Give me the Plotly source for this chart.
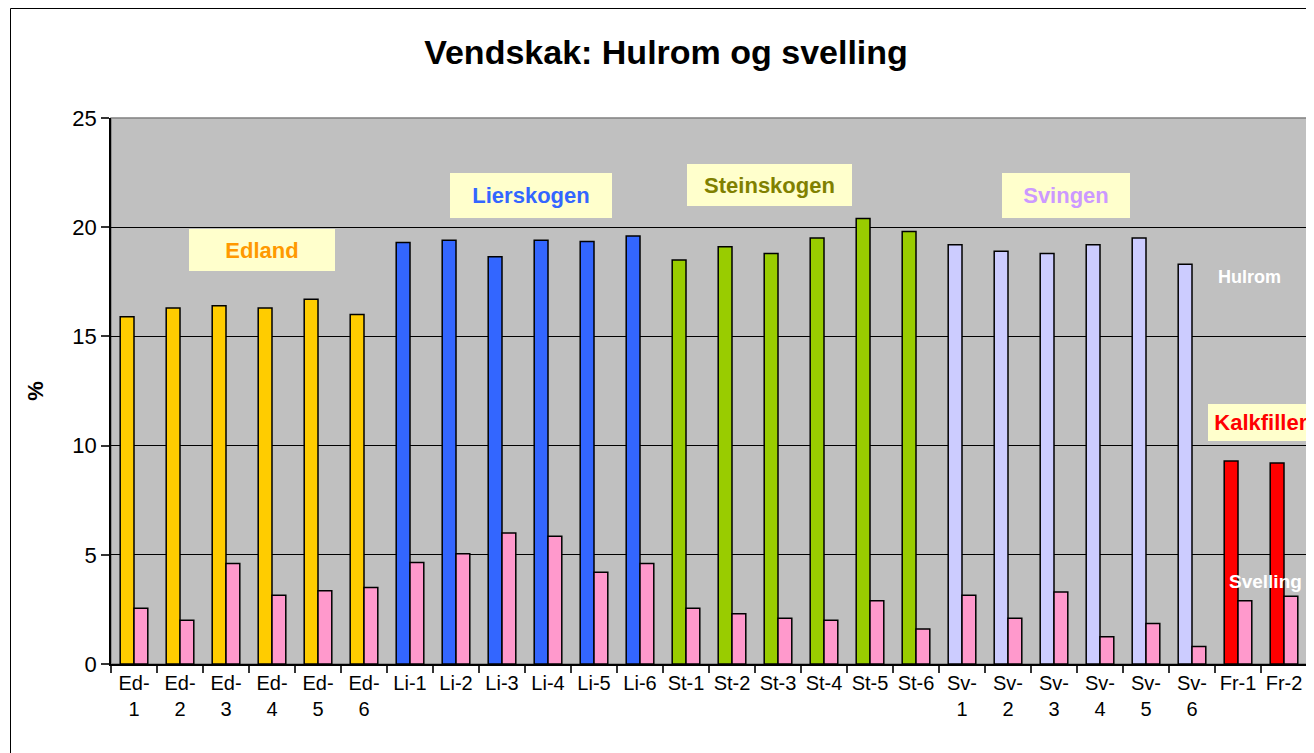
import plotly.graph_objects as go

categories = ["Ed-1", "Ed-2", "Ed-3", "Ed-4", "Ed-5", "Ed-6",
              "Li-1", "Li-2", "Li-3", "Li-4", "Li-5", "Li-6",
              "St-1", "St-2", "St-3", "St-4", "St-5", "St-6",
              "Sv-1", "Sv-2", "Sv-3", "Sv-4", "Sv-5", "Sv-6",
              "Fr-1", "Fr-2"]
tick_labels = ["Ed-<br>1", "Ed-<br>2", "Ed-<br>3", "Ed-<br>4", "Ed-<br>5", "Ed-<br>6",
               "Li-1", "Li-2", "Li-3", "Li-4", "Li-5", "Li-6",
               "St-1", "St-2", "St-3", "St-4", "St-5", "St-6",
               "Sv-<br>1", "Sv-<br>2", "Sv-<br>3", "Sv-<br>4", "Sv-<br>5", "Sv-<br>6",
               "Fr-1", "Fr-2"]
hulrom = [15.9, 16.3, 16.4, 16.3, 16.7, 16.0,
          19.3, 19.4, 18.65, 19.4, 19.35, 19.6,
          18.5, 19.1, 18.8, 19.5, 20.4, 19.8,
          19.2, 18.9, 18.8, 19.2, 19.5, 18.3,
          9.3, 9.2]
svelling = [2.55, 2.0, 4.6, 3.15, 3.35, 3.5,
            4.65, 5.05, 6.0, 5.85, 4.2, 4.6,
            2.55, 2.3, 2.1, 2.0, 2.9, 1.6,
            3.15, 2.1, 3.3, 1.25, 1.85, 0.8,
            2.9, 3.1]
group_colors = {"Ed": "#FFCC00", "Li": "#3366FF", "St": "#99CC00",
                "Sv": "#CCCCFF", "Fr": "#FF0000"}
hulrom_colors = [group_colors[c[:2]] for c in categories]

FONT = "Liberation Sans, Arial, sans-serif"

fig = go.Figure()
fig.add_trace(go.Bar(x=categories, y=hulrom, name="Hulrom",
                     marker=dict(color=hulrom_colors, line=dict(color="#000000", width=1.5))))
fig.add_trace(go.Bar(x=categories, y=svelling, name="Svelling",
                     marker=dict(color="#FF99CC", line=dict(color="#000000", width=1.5))))

# page body has an 8px margin; figure is laid out in its own coordinates
W, H = 1306, 745
L, R, T, B = 103, 7, 110, 89

def box(text, color, x, y, w, h, size=22):
    fig.add_annotation(x=x, y=y, xref="x", yref="y", text="<b>%s</b>" % text,
                       showarrow=False, font=dict(family=FONT, size=size, color=color),
                       bgcolor="#FFFFCC", borderwidth=0, borderpad=0,
                       width=w, height=h, align="center", valign="middle",
                       xanchor="center", yanchor="middle")

box("Edland", "#FF9900", 2.78, 18.96, 146, 42)
box("Lierskogen", "#3366FF", 8.63, 21.46, 162, 45)
box("Steinskogen", "#808000", 13.82, 21.95, 165, 42)
box("Svingen", "#CC99FF", 20.26, 21.46, 128, 45)
box("Kalkfiller", "#FF0000", 24.5, 11.05, 106, 37)

fig.add_annotation(x=24.26, y=17.72, xref="x", yref="y", text="<b>Hulrom</b>",
                   showarrow=False, font=dict(family=FONT, size=18, color="#FFFFFF"))
fig.add_annotation(x=24.59, y=3.79, xref="x", yref="y", text="<b>Svelling</b>",
                   showarrow=False, font=dict(family=FONT, size=19, color="#FFFFFF"))

PW = W - L - R
PH = H - T - B
# plot area frame (gray) and outer chart border
fig.add_shape(type="rect", xref="paper", yref="paper", x0=0, x1=1, y0=0, y1=1,
              line=dict(color="#808080", width=1.5), layer="below")
fig.add_shape(type="rect", xref="paper", yref="paper",
              x0=(2.5 - L) / PW, x1=1.2,
              y0=-0.3, y1=(H - B - 0.5) / PH,
              line=dict(color="#000000", width=1), layer="below")

fig.update_layout(
    width=W, height=H,
    margin=dict(l=L, r=R, t=T, b=B, autoexpand=False),
    paper_bgcolor="#FFFFFF", plot_bgcolor="#C0C0C0",
    barmode="group", bargap=0.4, bargroupgap=0,
    showlegend=False,
    font=dict(family=FONT, size=20, color="#000000"),
    title=dict(text="<b>Vendskak: Hulrom og svelling</b>", x=(666 - 8) / W, xref="container",
               xanchor="center", y=1 - 44 / H, yanchor="middle", yref="container",
               font=dict(family=FONT, size=34, color="#000000")),
    xaxis=dict(tickmode="array", tickvals=categories, ticktext=tick_labels,
               tickangle=0, range=[-0.5, len(categories) - 0.5], autorange=False,
               tickson="boundaries", ticks="outside", ticklen=7, tickwidth=1.5,
               tickcolor="#333333", showline=True, linecolor="#000000", linewidth=1.5,
               showgrid=False, tickfont=dict(family=FONT, size=20), automargin=False),
    yaxis=dict(range=[0, 25], autorange=False, dtick=5, tick0=0, ticks="outside", ticklen=8,
               tickwidth=1.5, tickcolor="#333333", showline=True, linecolor="#000000",
               linewidth=1.5, showgrid=True, gridcolor="#000000", gridwidth=1,
               zeroline=False, tickfont=dict(family=FONT, size=22),
               title=dict(text="<b>%</b>", font=dict(family=FONT, size=22), standoff=23),
               automargin=False),
)

fig.write_html("out.html")
